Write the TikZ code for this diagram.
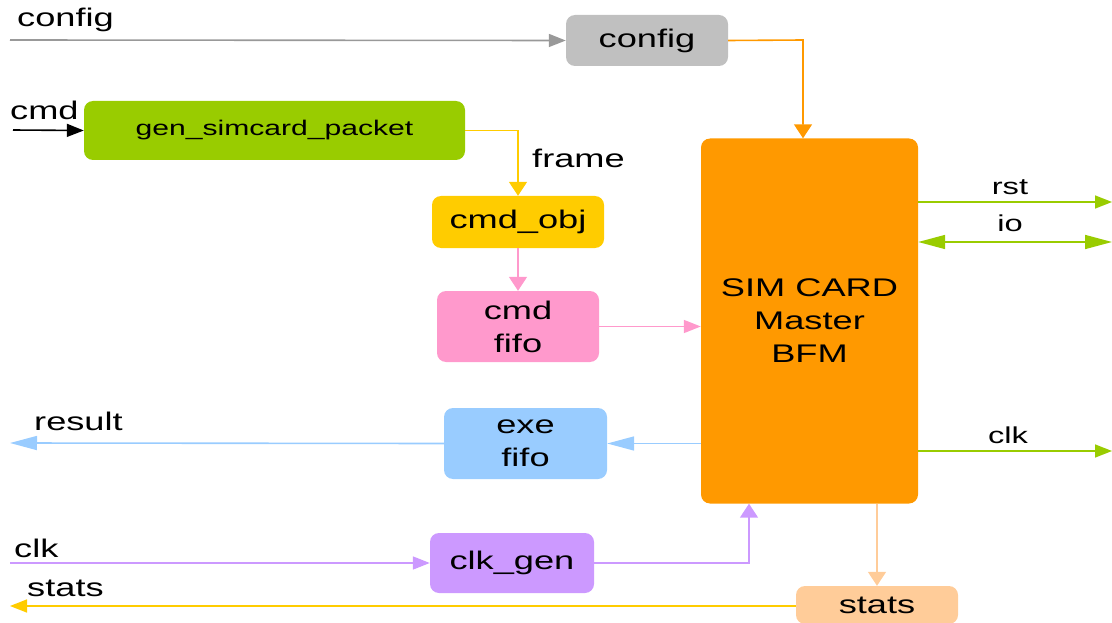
\documentclass[tikz,border=0pt]{standalone}
\usepackage{fontspec}
\setmainfont{Liberation Sans}[FakeStretch=1.42]
\usetikzlibrary{arrows.meta}
\definecolor{cgray}{HTML}{C0C0C0}
\definecolor{cgrayln}{HTML}{999999}
\definecolor{corange}{HTML}{FF9900}
\definecolor{cgreen}{HTML}{99CC00}
\definecolor{cyellow}{HTML}{FFCC00}
\definecolor{cpink}{HTML}{FF99CC}
\definecolor{cblue}{HTML}{99CCFF}
\definecolor{cpurple}{HTML}{CC99FF}
\definecolor{cpeach}{HTML}{FFCC99}
\tikzset{
  Th/.tip={Triangle[length=17pt,width=13pt]},
  Tl/.tip={Triangle[length=27pt,width=14pt]},
  Tv/.tip={Triangle[length=14pt,width=18pt]},
  blk/.style={rounded corners=9pt, inner sep=0pt, align=center,
    font=\fontsize{25.5}{33}\selectfont},
  conn/.style={line width=1.6pt},
  lbl/.style={anchor=base west, inner sep=0pt, font=\fontsize{25.5}{33}\selectfont},
  rlbl/.style={anchor=base, inner sep=0pt, font=\fontsize{23}{28}\selectfont},
}
\begin{document}
\begin{tikzpicture}[x=1pt,y=-1pt]
\useasboundingbox (0,0) rectangle (1112,623);
% blocks
\node[blk, fill=cgray, minimum width=162pt, minimum height=51pt] (cfgbox) at (647,40.5) {config};
\node[blk, fill=cgreen, minimum width=381pt, minimum height=59pt,
      font=\fontsize{21.2}{26}\selectfont] (gen) at (274.5,130.5) {gen\_simcard\_packet};
\node[blk, fill=cyellow, minimum width=172pt, minimum height=52pt] (cmdobj) at (518,222) {cmd\_obj};
\node[blk, fill=cpink, minimum width=162pt, minimum height=71pt] (cmdfifo) at (518,326.5) {cmd\\fifo};
\node[blk, fill=cblue, minimum width=163pt, minimum height=71pt] (exefifo) at (525.5,443.5) {exe\\fifo};
\node[blk, fill=cpurple, minimum width=164pt, minimum height=60pt] (clkgen) at (512,563) {clk\_gen};
\node[blk, fill=corange, minimum width=217pt, minimum height=365pt] (bfm) at (809.5,321) {SIM CARD\\Master\\BFM};
\node[blk, fill=cpeach, minimum width=162pt, minimum height=38pt] (stats) at (877,605) {stats};
% free ends
\coordinate (cfgin) at (10,40);
\coordinate (cmdin) at (13,130);
\coordinate (resout) at (10,443);
\coordinate (clkin) at (10,563);
\coordinate (statsout) at (10,606);
\coordinate (rstend) at (1112,202);
\coordinate (ioend) at (1112,242);
\coordinate (clkend) at (1112,451);
\coordinate (cfgdown) at (803,40);
\coordinate (clkup) at (749,563);
% connectors
\draw[conn, cgrayln, -{Th}] (cfgin) -- (cfgbox.west);
\draw[conn, corange, -{Tv}] (cfgbox.east) -- (cfgdown) -- (cfgdown |- bfm.north);
\draw[conn, black, -{Th}] (cmdin) -- (gen.west);
\draw[conn, cyellow, -{Tv}] (gen.east) -| (cmdobj.north);
\draw[conn, cpink, -{Tv}] (cmdobj.south) -- (cmdfifo.north);
\draw[conn, cpink, -{Th}] (cmdfifo.east) -- (cmdfifo.east -| bfm.west);
\draw[conn, cblue, -{Tl}] (exefifo.east -| bfm.west) -- (exefifo.east);
\draw[conn, cblue, -{Tl}] (exefifo.west) -- (resout);
\draw[conn, cpurple, -{Th}] (clkin) -- (clkgen.west);
\draw[conn, cpurple, -{Tv}] (clkgen.east) -- (clkup) -- (clkup |- bfm.south);
\draw[conn, cpeach, -{Tv}] (stats.north |- bfm.south) -- (stats.north);
\draw[conn, cyellow, -{Th}] (stats.west |- statsout) -- (statsout);
\draw[conn, cgreen, -{Th}] (rstend -| bfm.east) -- (rstend);
\draw[conn, cgreen, {Tl}-{Tl}] (ioend -| bfm.east) -- (ioend);
\draw[conn, cgreen, -{Th}] (clkend -| bfm.east) -- (clkend);
% labels
\node[lbl] (lcfg) at (17,27) {config};
\node[lbl] (lcmd) at (10,120) {cmd};
\node[lbl] (lframe) at (532,168) {frame};
\node[lbl] (lres) at (34,430) {result};
\node[lbl] (lclk) at (14,557) {clk};
\node[lbl] (lstats) at (27,596) {stats};
\node[rlbl] (lrst) at (1010,195) {rst};
\node[rlbl] (lio) at (1010,232) {io};
\node[rlbl] (lclko) at (1008,443) {clk};
\end{tikzpicture}
\end{document}
